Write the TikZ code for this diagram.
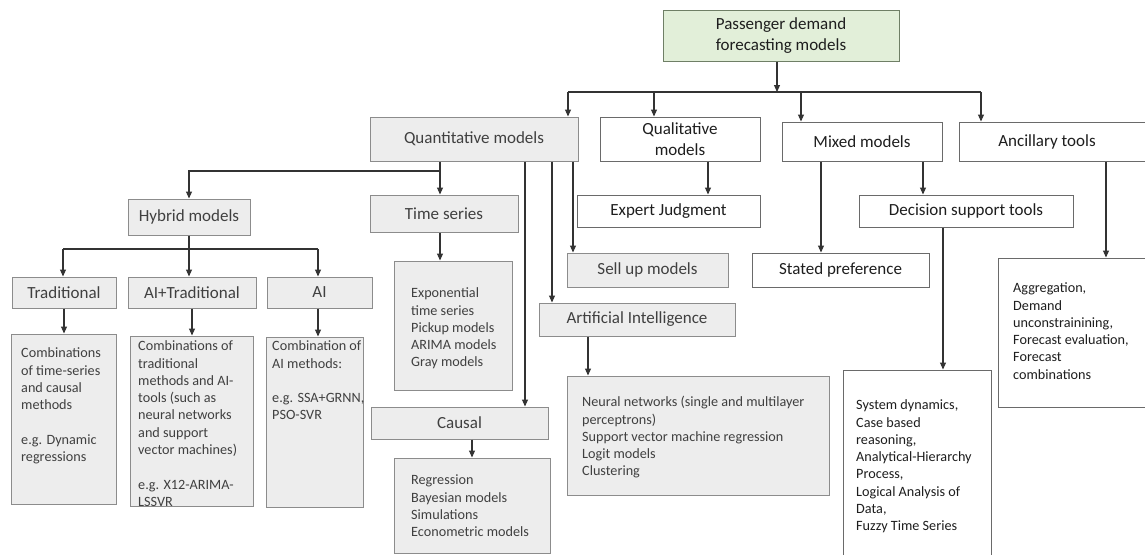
\documentclass[tikz,border=0pt]{standalone}
\usepackage{fontspec}
\setmainfont{Carlito}
\usetikzlibrary{arrows.meta}

\definecolor{boxgray}{HTML}{EDEDED}
\definecolor{edgegray}{HTML}{8C8C8C}
\definecolor{edgedark}{HTML}{6A6A6A}
\definecolor{rootgreen}{HTML}{E2EFD9}
\definecolor{rootedge}{HTML}{6F7F66}
\definecolor{linecol}{HTML}{333333}
\definecolor{txtgray}{HTML}{404040}
\definecolor{txtdark}{HTML}{1E1E1E}

\tikzset{
  boxbase/.style={draw, line width=1pt, inner sep=0pt, align=center,
    font=\fontsize{17}{20.7}\selectfont},
  graybox/.style={boxbase, draw=edgegray, fill=boxgray, text=txtgray},
  whitebox/.style={boxbase, draw=edgedark, fill=white, text=txtdark},
  rootbox/.style={boxbase, draw=rootedge, fill=rootgreen, text=txtdark},
  bodytext/.style={inner sep=0pt, anchor=north west, align=left,
    font=\fontsize{14.2}{17.3}\selectfont},
  arr/.style={draw=linecol, line width=1.1pt, -{Triangle[length=7pt,width=6pt]}},
  conn/.style={draw=linecol, line width=1.1pt},
}

\begin{document}
\begin{tikzpicture}[x=1pt,y=-1pt]
\useasboundingbox (0,0) rectangle (1145,554);
\clip (0,0) rectangle (1145,554);
\fill[white] (0,0) rectangle (1145,554);

% ---- root and first level ----
\node[rootbox, minimum width=236pt, minimum height=51pt] (root) at (781,35.5)
  {Passenger demand\\forecasting models};

\node[graybox, minimum width=208pt, minimum height=44pt] (quant) at (474,139) {Quantitative models};
\node[whitebox, minimum width=160pt, minimum height=44pt] (qual) at (680,139) {Qualitative\\models};
\node[whitebox, minimum width=160pt, minimum height=39pt] (mixed) at (862,141.5) {Mixed models};
\node[whitebox, minimum width=196pt, minimum height=39pt] (anc) at (1057,141.5) {Ancillary tools\hspace*{20pt}};

% ---- second level ----
\node[whitebox, minimum width=183pt, minimum height=32pt] (expert) at (668.5,211) {Expert Judgment};
\node[graybox, minimum width=122pt, minimum height=36pt] (hyb) at (189,217) {Hybrid models};
\node[graybox, minimum width=148pt, minimum height=37pt] (ts) at (444,213.5) {Time series};
\node[whitebox, minimum width=214pt, minimum height=32pt] (dst) at (966,211) {Decision support tools};
\node[whitebox, minimum width=177pt, minimum height=34pt] (stated) at (840.5,270) {Stated preference};
\node[graybox, minimum width=161pt, minimum height=34pt] (sell) at (647.5,270) {Sell up models};
\node[graybox, minimum width=196pt, minimum height=33pt] (ai) at (637,319.5) {Artificial Intelligence};
\node[graybox, minimum width=177pt, minimum height=32pt] (causal) at (459.5,423) {Causal};

% ---- hybrid sub-classes ----
\node[graybox, minimum width=104pt, minimum height=31pt] (trad) at (64,292.5) {Traditional};
\node[graybox, minimum width=128pt, minimum height=31pt] (ait) at (192,292.5) {AI+Traditional};
\node[graybox, minimum width=105pt, minimum height=31pt] (aio) at (319.5,292.5) {AI};

% ---- description boxes ----
\node[graybox, minimum width=105pt, minimum height=170pt] (tradB) at (63.5,419) {};
\node[bodytext, text=txtgray] (tradT) at (21,345.4)
  {\strut Combinations\\of time-series\\and causal\\methods\\[17.3pt]e.g. Dynamic\\regressions};

\node[graybox, minimum width=123pt, minimum height=170pt] (aitB) at (191.5,421) {};
\node[bodytext, text=txtgray] (aitT) at (138,338.4)
  {\strut Combinations of\\traditional\\methods and AI-\\tools (such as\\neural networks\\and support\\vector machines)\\[17.3pt]e.g. X12-ARIMA-\\LSSVR};

\node[graybox, minimum width=97pt, minimum height=170pt] (aioB) at (314.5,422) {};
\node[bodytext, text=txtgray] (aioT) at (272,338.4)
  {\strut Combination of\\AI methods:\\[17.3pt]e.g. SSA+GRNN,\\PSO-SVR};

\node[graybox, minimum width=118pt, minimum height=129pt] (expo) at (453,325.5) {};
\node[bodytext, text=txtgray] (expoT) at (411,285.4)
  {\strut Exponential\\time series\\Pickup models\\ARIMA models\\Gray models};

\node[graybox, minimum width=156pt, minimum height=95pt] (regr) at (472,505.5) {};
\node[bodytext, text=txtgray] (regrT) at (411,472.4)
  {\strut Regression\\Bayesian models\\Simulations\\Econometric models};

\node[graybox, minimum width=262pt, minimum height=119pt] (neural) at (698,435.5) {};
\node[bodytext, text=txtgray] (neuralT) at (582,394.4)
  {\strut Neural networks (single and multilayer\\perceptrons)\\Support vector machine regression\\Logit models\\Clustering};

\node[whitebox, minimum width=148pt, minimum height=195pt] (sys) at (917,467.5) {};
\node[bodytext, text=txtdark] (sysT) at (856,397.4)
  {\strut System dynamics,\\Case based\\reasoning,\\Analytical-Hierarchy\\Process,\\Logical Analysis of\\Data,\\Fuzzy Time Series};

\node[whitebox, minimum width=157pt, minimum height=149pt] (aggr) at (1076.5,332.5) {};
\node[bodytext, text=txtdark] (aggrT) at (1013,280.4)
  {\strut Aggregation,\\Demand\\unconstrainining,\\Forecast evaluation,\\Forecast\\combinations};

% ---- connectors: root to first level ----
\coordinate (busL) at (568,92);
\coordinate (busR) at (981,92);
\coordinate (dQual) at (654,92);
\coordinate (dMix) at (801,92);
\draw[conn] (busL) -- (busR);
\draw[arr] ([xshift=-4pt]root.south) -- ([xshift=-4pt]root.south |- busL);
\draw[arr] (busL) -- (busL |- quant.north);
\draw[arr] (dQual) -- (dQual |- qual.north);
\draw[arr] (dMix) -- (dMix |- mixed.north);
\draw[arr] (busR) -- (busR |- anc.north);

% ---- qualitative, mixed, ancillary ----
\draw[arr] ([xshift=28pt]qual.south) -- ([xshift=28pt]qual.south |- expert.north);
\draw[arr] ([xshift=-41pt]mixed.south) -- ([xshift=-41pt]mixed.south |- stated.north);
\draw[arr] ([xshift=61pt]mixed.south) -- ([xshift=61pt]mixed.south |- dst.north);
\draw[arr] ([xshift=-23pt]dst.south) -- ([xshift=-23pt]dst.south |- sys.north);
\draw[arr] ([xshift=49pt]anc.south) -- ([xshift=49pt]anc.south |- aggr.north);

% ---- quantitative branches ----
\coordinate (qBr) at (440,171);
\draw[arr] ([xshift=-34pt]quant.south) -- ([xshift=-34pt]quant.south |- ts.north);
\draw[arr] (qBr) -| (hyb.north);
\draw[arr] ([xshift=51pt]quant.south) -- ([xshift=51pt]quant.south |- causal.north);
\draw[arr] ([xshift=78pt]quant.south) -- ([xshift=78pt]quant.south |- ai.north);
\draw[arr] ([xshift=99pt]quant.south) -- ([xshift=99pt]quant.south |- sell.north);
\draw[arr] ([xshift=-4pt]ts.south) -- ([xshift=-4pt]ts.south |- expo.north);
\draw[arr] (causal.south -| regr.north) -- (regr.north);
\draw[arr] ([xshift=-49pt]ai.south) -- ([xshift=-49pt]ai.south |- neural.north);

% ---- hybrid branches ----
\coordinate (hbL) at (63,249);
\coordinate (hbR) at (318,249);
\draw[conn] (hbL) -- (hbR);
\draw[conn] (hyb.south) -- (hyb.south |- hbL);
\draw[arr] (hbL) -- (hbL |- trad.north);
\draw[arr] (hyb.south |- hbL) -- (hyb.south |- ait.north);
\draw[arr] (hbR) -- (hbR |- aio.north);
\draw[arr] (trad.south) -- (trad.south |- tradB.north);
\draw[arr] (ait.south) -- (ait.south |- aitB.north);
\draw[arr] ([xshift=-1.5pt]aio.south) -- ([xshift=-1.5pt]aio.south |- aioB.north);
\end{tikzpicture}
\end{document}
